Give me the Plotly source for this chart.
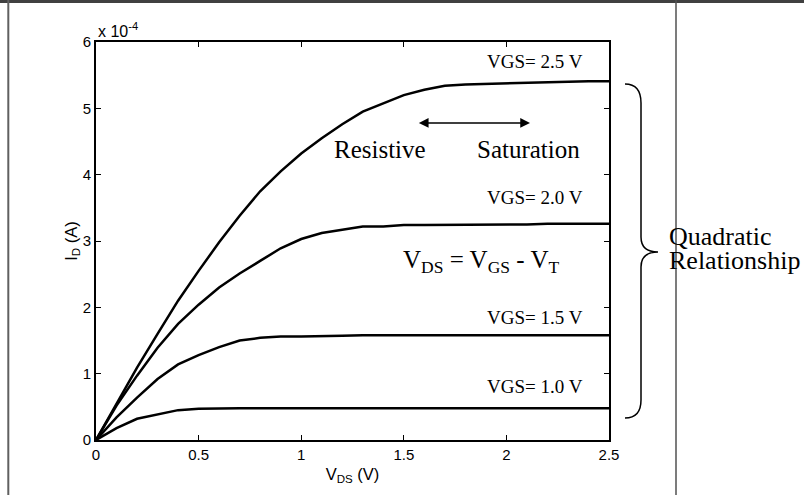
import plotly.graph_objects as go

# V_DS sample points (V)
vds = [0.0, 0.1, 0.2, 0.3, 0.4, 0.5, 0.6, 0.7, 0.8, 0.9, 1.0, 1.1, 1.2, 1.3,
       1.4, 1.5, 1.6, 1.7, 1.8, 1.9, 2.0, 2.1, 2.2, 2.3, 2.4, 2.5]

# I_D values in units of 1e-4 A (axis shows "x 10^-4")
id_vgs25 = [0.0, 0.55, 1.09, 1.60, 2.10, 2.55, 2.98, 3.38, 3.75, 4.05, 4.32, 4.55, 4.76, 4.95,
            5.08, 5.20, 5.28, 5.34, 5.36, 5.37, 5.38, 5.39, 5.39, 5.40, 5.41, 5.41]
id_vgs20 = [0.0, 0.52, 0.97, 1.39, 1.75, 2.04, 2.30, 2.51, 2.70, 2.89, 3.03, 3.12, 3.17, 3.22,
            3.22, 3.24, 3.24, 3.24, 3.25, 3.25, 3.25, 3.25, 3.26, 3.26, 3.26, 3.26]
id_vgs15 = [0.0, 0.34, 0.64, 0.92, 1.14, 1.28, 1.40, 1.50, 1.54, 1.56, 1.56, 1.56, 1.57, 1.58,
            1.58, 1.58, 1.58, 1.58, 1.58, 1.58, 1.58, 1.58, 1.58, 1.58, 1.58, 1.58]
id_vgs10 = [0.0, 0.18, 0.32, 0.39, 0.45, 0.47, 0.48, 0.48, 0.48, 0.48, 0.48, 0.48, 0.48, 0.48,
            0.48, 0.48, 0.48, 0.48, 0.48, 0.48, 0.48, 0.48, 0.48, 0.48, 0.48, 0.48]

series = [id_vgs25, id_vgs20, id_vgs15, id_vgs10]
series_labels = ["VGS= 2.5 V", "VGS= 2.0 V", "VGS= 1.5 V", "VGS= 1.0 V"]
label_y = [5.71, 3.66, 1.84, 0.80]

x_ticks = [0, 0.5, 1, 1.5, 2, 2.5]
x_ticktext = ["0", "0.5", "1", "1.5", "2", "2.5"]
y_ticks = [0, 1, 2, 3, 4, 5, 6]
y_ticktext = ["0", "1", "2", "3", "4", "5", "6"]

SANS = "Liberation Sans, Arial, sans-serif"
SERIF = "Liberation Serif, Times New Roman, serif"

fig = go.Figure()
for ys in series:
    fig.add_trace(go.Scatter(x=vds, y=ys, mode="lines",
                             line=dict(color="black", width=2.5),
                             showlegend=False, hoverinfo="skip"))

W, H = 804, 495
L, R, T, B = 96, 195, 42, 55
PW, PH = W - L - R, H - T - B


def px(xp):
    return (xp - L) / PW


def py(yp):
    return (H - B - yp) / PH


annotations = []
for txt, yv in zip(series_labels, label_y):
    annotations.append(dict(x=2.385, y=yv, xref="x", yref="y", text=txt,
                            showarrow=False, xanchor="right", yanchor="middle",
                            font=dict(family=SERIF, size=19, color="black")))

annotations += [
    dict(x=1.149, y=4.38, xref="x", yref="y", text="Resistive", showarrow=False,
         xanchor="left", yanchor="middle", font=dict(family=SERIF, size=25, color="black")),
    dict(x=1.847, y=4.38, xref="x", yref="y", text="Saturation", showarrow=False,
         xanchor="left", yanchor="middle", font=dict(family=SERIF, size=25, color="black")),
    dict(x=2.115, y=4.78, ax=1.566, ay=4.78, xref="x", yref="y", axref="x", ayref="y",
         text="", showarrow=True, arrowhead=2, startarrowhead=2, arrowside="end+start",
         arrowsize=1.3, startarrowsize=1.3, arrowwidth=1.5, arrowcolor="black"),
    dict(x=1.485, y=2.69, xref="x", yref="y",
         text="V<sub>DS</sub> = V<sub>GS</sub> - V<sub>T</sub>", showarrow=False,
         xanchor="left", yanchor="middle", font=dict(family=SERIF, size=25, color="black")),
    dict(x=px(667), y=py(236), xref="paper", yref="paper", text="Quadratic",
         showarrow=False, xanchor="left", yanchor="middle",
         font=dict(family=SERIF, size=26, color="black")),
    dict(x=px(667), y=py(260), xref="paper", yref="paper", text="Relationship",
         showarrow=False, xanchor="left", yanchor="middle",
         font=dict(family=SERIF, size=26, color="black")),
    dict(x=0, y=1, xref="paper", yref="paper", text="x 10<sup>-4</sup>",
         showarrow=False, xanchor="left", yanchor="bottom", yshift=0,
         font=dict(family=SANS, size=16, color="black")),
]

# curly bracket path (paper coordinates)
bx0, bxv, bxt = px(625), px(641), px(658)
path = (f"M {bx0},{py(84)} Q {bxv},{py(84)} {bxv},{py(103)} "
        f"L {bxv},{py(237)} Q {bxv},{py(252)} {bxt},{py(252)} "
        f"Q {bxv},{py(252)} {bxv},{py(267)} "
        f"L {bxv},{py(400)} Q {bxv},{py(418)} {bx0},{py(418)}")

shapes = [
    dict(type="path", path=path, xref="paper", yref="paper",
         line=dict(color="black", width=1.5)),
    # outer frame lines
    dict(type="line", xref="paper", yref="paper", x0=px(0), x1=px(804), y0=py(1.5), y1=py(1.5),
         line=dict(color="#404040", width=3)),
    dict(type="line", xref="paper", yref="paper", x0=px(8.3), x1=px(8.3), y0=py(0), y1=py(495),
         line=dict(color="#606060", width=2)),
    dict(type="line", xref="paper", yref="paper", x0=px(676), x1=px(676), y0=py(0), y1=py(495),
         line=dict(color="#505050", width=1.5)),
]

axis_common = dict(showline=True, linecolor="black", linewidth=2, mirror="ticks",
                   ticks="inside", ticklen=5, tickwidth=1, tickcolor="black",
                   showgrid=False, zeroline=False,
                   tickfont=dict(family=SANS, size=15, color="black"))

fig.update_layout(
    width=W, height=H,
    margin=dict(l=L, r=R, t=T, b=B, pad=0),
    paper_bgcolor="white", plot_bgcolor="white",
    xaxis=dict(range=[0, 2.5], tickvals=x_ticks, ticktext=x_ticktext,
               title=dict(text="V<sub>DS</sub> (V)", standoff=6,
                          font=dict(family=SANS, size=16.5, color="black")),
               **axis_common),
    yaxis=dict(range=[0, 6], tickvals=y_ticks, ticktext=y_ticktext,
               title=dict(text="I<sub>D</sub> (A)", standoff=1,
                          font=dict(family=SANS, size=16.5, color="black")),
               **axis_common),
    annotations=annotations,
    shapes=shapes,
)

fig.write_html("out.html")
